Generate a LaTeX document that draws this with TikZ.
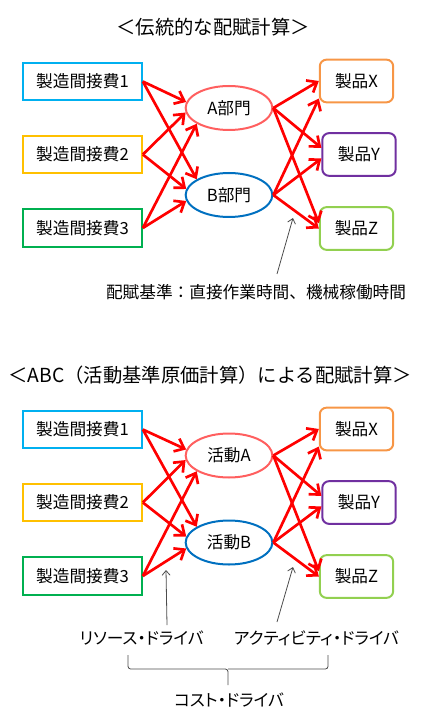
\documentclass[tikz,border=0pt]{standalone}
\usepackage{fontspec}
\setmainfont{Noto Sans CJK JP}
\usepackage{xcolor}
\usepackage{tikz}
\usetikzlibrary{arrows.meta}
\usetikzlibrary{shapes.geometric}
\definecolor{costone}{HTML}{00B0F0}
\definecolor{costtwo}{HTML}{FFC000}
\definecolor{costthree}{HTML}{00B050}
\definecolor{deptred}{HTML}{FF5F5F}
\definecolor{deptblue}{HTML}{0070C0}
\definecolor{prodorange}{HTML}{F79646}
\definecolor{prodpurple}{HTML}{7030A0}
\definecolor{prodgreen}{HTML}{92D050}

\begin{document}
\begin{tikzpicture}[x=0.75pt, y=-0.75pt]
				\tikzstyle{costbox}=[draw, line width=1.5pt, minimum width=89pt, minimum height=28pt, inner sep=0pt, font=\fontsize{12.5}{12.5}\selectfont]
				\tikzstyle{dept}=[draw, ellipse, line width=1.5pt, minimum width=65pt, minimum height=33pt, inner sep=0pt, font=\fontsize{12.5}{12.5}\selectfont]
				\tikzstyle{prodbox}=[draw, rounded corners=5pt, line width=1.5pt, minimum width=55pt, minimum height=32pt, inner sep=0pt, font=\fontsize{12.5}{12.5}\selectfont]
				\tikzstyle{flow}=[draw=red, line width=2pt, -{Straight Barb[length=6.5pt,width=10.5pt]}]
				\tikzstyle{pointer}=[draw=black!70, line width=0.6pt, -{Straight Barb[length=3.5pt,width=6pt]}]
				\tikzstyle{headline}=[font=\fontsize{14.5}{14.5}\selectfont]
				\tikzstyle{label}=[font=\fontsize{12.5}{12.5}\selectfont]
				\tikzstyle{kanalabel}=[font=\fontsize{12.5}{12.5}\selectfont\addfontfeatures{RawFeature=+palt}]
				\useasboundingbox (0,0) rectangle (431,723);
				%%% TOP DIAGRAM %%%
				\node[headline] (ttitle) at (213,27) {＜伝統的な配賦計算＞};
				%overhead costs
				\node[costbox, costone] (tcost1) at (82.5,81.5) {\color{black}製造間接費1};
				\node[costbox, costtwo] (tcost2) at (82.5,154.5) {\color{black}製造間接費2};
				\node[costbox, costthree] (tcost3) at (82.5,228) {\color{black}製造間接費3};
				%departments
				\node[dept, deptred] (tdeptA) at (229,108) {\color{black}A部門};
				\node[dept, deptblue] (tdeptB) at (229,195) {\color{black}B部門};
				%products
				\node[prodbox, prodorange] (tprodX) at (356.5,81) {\color{black}製品X};
				\node[prodbox, prodpurple] (tprodY) at (359,154.5) {\color{black}製品Y};
				\node[prodbox, prodgreen] (tprodZ) at (356.5,228.5) {\color{black}製品Z};
				%arrows costs to departments to products
				\foreach \s/\t in {tcost1.east/tdeptA.172, tcost1.east/tdeptB.154,
					tcost2.east/tdeptA.186, tcost2.east/tdeptB.172,
					tcost3.east/tdeptA.206, tcost3.east/tdeptB.188,
					tdeptA.east/tprodX.west, tdeptA.east/tprodY.170, tdeptA.east/tprodZ.172,
					tdeptB.east/tprodX.205, tdeptB.east/tprodY.186, tdeptB.east/tprodZ.west}
					\draw[flow] (\s) -- (\t);
				%allocation basis
				\node[label] (tbasis) at (256,292) {配賦基準：直接作業時間、機械稼働時間};
				\coordinate (tbasisfrom) at (277,274);
				\coordinate (tbasisto) at (293,218);
				\draw[pointer] (tbasisfrom) -- (tbasisto);
				%%% BOTTOM DIAGRAM %%%
				\node[headline] (btitle) at (210,375) {＜ABC（活動基準原価計算）による配賦計算＞};
				%overhead costs
				\node[costbox, costone] (bcost1) at (82.5,429.5) {\color{black}製造間接費1};
				\node[costbox, costtwo] (bcost2) at (82.5,502.5) {\color{black}製造間接費2};
				\node[costbox, costthree] (bcost3) at (82.5,576) {\color{black}製造間接費3};
				%activities
				\node[dept, deptred] (bactA) at (229,455.5) {\color{black}活動A};
				\node[dept, deptblue] (bactB) at (229,542.5) {\color{black}活動B};
				%products
				\node[prodbox, prodorange] (bprodX) at (356.5,429) {\color{black}製品X};
				\node[prodbox, prodpurple] (bprodY) at (359,502.5) {\color{black}製品Y};
				\node[prodbox, prodgreen] (bprodZ) at (356.5,576.5) {\color{black}製品Z};
				%arrows costs to activities to products
				\foreach \s/\t in {bcost1.east/bactA.172, bcost1.east/bactB.154,
					bcost2.east/bactA.186, bcost2.east/bactB.172,
					bcost3.east/bactA.206, bcost3.east/bactB.188,
					bactA.east/bprodX.west, bactA.east/bprodY.170, bactA.east/bprodZ.172,
					bactB.east/bprodX.205, bactB.east/bprodY.186, bactB.east/bprodZ.west}
					\draw[flow] (\s) -- (\t);
				%drivers
				\node[kanalabel] (bresource) at (141.5,638) {リソース・ドライバ};
				\node[kanalabel] (bactivity) at (316.5,638) {アクティビティ・ドライバ};
				\coordinate (bresfrom) at (167,625);
				\coordinate (bresto) at (166,570);
				\coordinate (bactfrom) at (277,622);
				\coordinate (bactto) at (293,567);
				\draw[pointer] (bresfrom) -- (bresto);
				\draw[pointer] (bactfrom) -- (bactto);
				%brace under drivers
				\coordinate (bbraceL) at (128,655);
				\coordinate (bbraceR) at (328,655);
				\coordinate (bbraceM) at (228,669);
				\coordinate (bbraceT) at (228,685);
				\draw[black!70, line width=0.6pt, rounded corners=2pt] (bbraceL) |- (bbraceM) -- (bbraceT);
				\draw[black!70, line width=0.6pt, rounded corners=2pt] (bbraceR) |- (bbraceM);
				\node[kanalabel] (bcostdriver) at (229,700) {コスト・ドライバ};
				\end{tikzpicture}
\end{document}
